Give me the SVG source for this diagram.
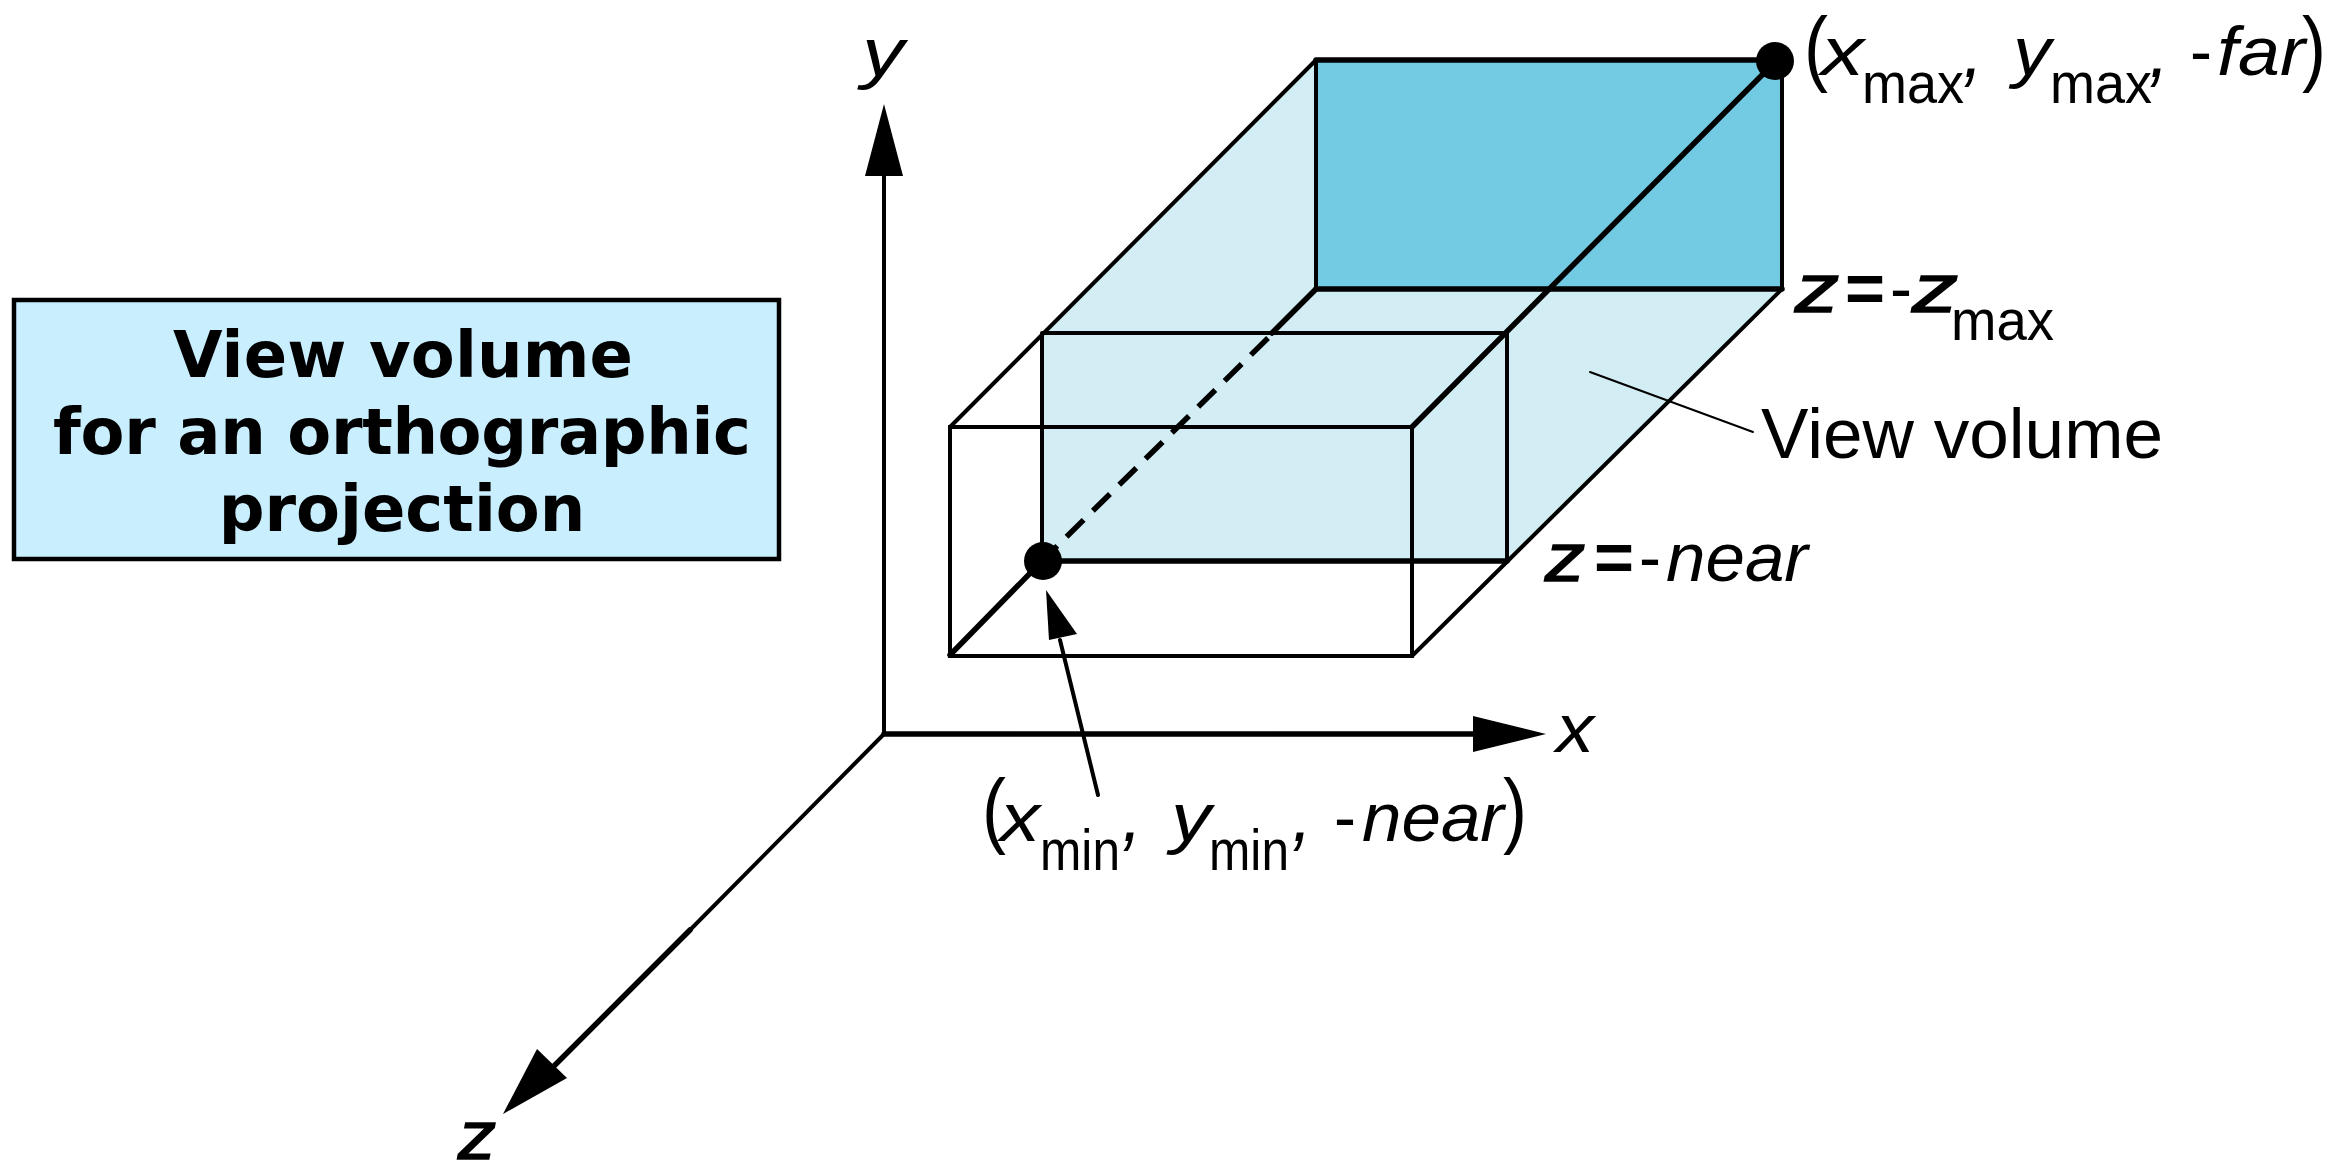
<svg xmlns="http://www.w3.org/2000/svg" width="2334" height="1166" viewBox="0 0 2334 1166">
<style>
.l{fill:none;stroke:#000;stroke-width:4;stroke-linecap:round}
.t{stroke-width:5.5}
.h{stroke-width:2}
text{font-family:"Liberation Sans",Arial,sans-serif;fill:#000;font-size:68px}
.v{font-size:70px}
.s{font-size:58px;font-style:normal}
.c{font-size:80px;font-style:italic}
.p{font-size:84px;font-style:normal}
.i{font-style:italic}
.z{font-style:italic;stroke:#000;stroke-width:1.5}
.e{font-weight:700}
.b{font-family:"DejaVu Sans",sans-serif;font-weight:700;font-size:64px;text-anchor:middle}
</style>
<rect width="2334" height="1166" fill="#fff"/>
<g id="volume">
<polygon points="1316,60 1316,289 1782,289 1507,561 1042,561 1042,333" fill="#d3edf4"/>
<rect x="1316" y="60" width="466" height="229" fill="#72cbe2"/>
<path class="l t" d="M1316,60H1775M1316,289H1782"/>
<path class="l" d="M1316,60V289M1782,60V289M1316,60L950,427M1782,289L1412,656"/>
<path class="l" d="M1042,333H1507V561M1042,333V561"/>
<path class="l t" d="M1042,561H1507"/>
<path class="l" d="M950,427H1412V656H950Z"/>
<path class="l t" d="M1775,62L1412,427M1316,289L1272,333M950,655L1042,561"/>
<path class="l t" style="stroke-linecap:butt" d="M1268,338L1042,561" stroke-dasharray="24 13"/>
<circle cx="1775" cy="61" r="19" fill="#000"/>
<circle cx="1043" cy="561" r="19" fill="#000"/>
</g>
<g id="connectors">
<path class="l" d="M884,165V734"/>
<path class="l t" d="M884,734H1490"/>
<path class="l" d="M884,734L690,930"/>
<path class="l t" d="M690,930L540,1080"/>
<polygon points="884,104 865,176 903,176" fill="#000"/>
<polygon points="1546,734 1473,716 1473,752" fill="#000"/>
<polygon points="503,1114 567,1078 537,1049" fill="#000"/>
<path class="l" d="M1098,795L1060,640"/>
<polygon points="1046,590 1049,640 1077,634" fill="#000"/>
<path class="l h" d="M1590,372L1753,432"/>
</g>
<g id="title">
<rect x="14" y="300" width="765" height="259" fill="#c9efff" stroke="#000" stroke-width="4.5"/>
<text class="b" x="403" y="377" textLength="460">View volume</text>
<text class="b" x="402" y="454" textLength="698">for an orthographic</text>
<text class="b" x="402" y="531">projection</text>
</g>
<g id="labels">
<text class="i" x="862" y="76" textLength="42" lengthAdjust="spacingAndGlyphs">y</text>
<text class="i" x="1556" y="752" textLength="38" lengthAdjust="spacingAndGlyphs">x</text>
<text class="z" x="458" y="1159" textLength="38" lengthAdjust="spacingAndGlyphs">z</text>
<text><tspan class="p" x="1804" y="76" textLength="24" lengthAdjust="spacingAndGlyphs">(</tspan><tspan class="i" x="1821" y="75" textLength="43" lengthAdjust="spacingAndGlyphs">x</tspan><tspan class="s" x="1862" y="103" textLength="102" lengthAdjust="spacingAndGlyphs">max</tspan><tspan class="c" x="1963" y="77" textLength="20" lengthAdjust="spacingAndGlyphs">,</tspan><tspan class="i" x="2013" y="75" textLength="38" lengthAdjust="spacingAndGlyphs">y</tspan><tspan class="s" x="2050" y="103" textLength="102" lengthAdjust="spacingAndGlyphs">max</tspan><tspan class="c" x="2149" y="77" textLength="20" lengthAdjust="spacingAndGlyphs">,</tspan><tspan x="2190" y="75" textLength="22" lengthAdjust="spacingAndGlyphs">-</tspan><tspan class="i" x="2217" y="75" textLength="88" lengthAdjust="spacingAndGlyphs">far</tspan><tspan class="p" x="2302" y="76" textLength="24" lengthAdjust="spacingAndGlyphs">)</tspan></text>
<text><tspan class="z" x="1795" y="312" textLength="44" lengthAdjust="spacingAndGlyphs">z</tspan><tspan class="e" x="1845" y="312" textLength="40" lengthAdjust="spacingAndGlyphs">=</tspan><tspan x="1890" y="312" textLength="22" lengthAdjust="spacingAndGlyphs">-</tspan><tspan class="z" x="1912" y="312" textLength="46" lengthAdjust="spacingAndGlyphs">z</tspan><tspan class="s" x="1951" y="340" textLength="103" lengthAdjust="spacingAndGlyphs">max</tspan></text>
<text class="v" x="1761" y="458" textLength="402" lengthAdjust="spacingAndGlyphs">View volume</text>
<text><tspan class="z" x="1545" y="581" textLength="40" lengthAdjust="spacingAndGlyphs">z</tspan><tspan class="e" x="1594" y="581" textLength="40" lengthAdjust="spacingAndGlyphs">=</tspan><tspan x="1639" y="581" textLength="22" lengthAdjust="spacingAndGlyphs">-</tspan><tspan class="i" x="1666" y="581" textLength="142" lengthAdjust="spacingAndGlyphs">near</tspan></text>
<text><tspan class="p" x="982" y="838" textLength="24" lengthAdjust="spacingAndGlyphs">(</tspan><tspan class="i" x="1000" y="841" textLength="40" lengthAdjust="spacingAndGlyphs">x</tspan><tspan class="s" x="1040" y="870" textLength="80" lengthAdjust="spacingAndGlyphs">min</tspan><tspan class="c" x="1122" y="841" textLength="20" lengthAdjust="spacingAndGlyphs">,</tspan><tspan class="i" x="1171" y="841" textLength="40" lengthAdjust="spacingAndGlyphs">y</tspan><tspan class="s" x="1209" y="870" textLength="80" lengthAdjust="spacingAndGlyphs">min</tspan><tspan class="c" x="1292" y="841" textLength="20" lengthAdjust="spacingAndGlyphs">,</tspan><tspan x="1334" y="841" textLength="22" lengthAdjust="spacingAndGlyphs">-</tspan><tspan class="i" x="1362" y="841" textLength="142" lengthAdjust="spacingAndGlyphs">near</tspan><tspan class="p" x="1503" y="838" textLength="24" lengthAdjust="spacingAndGlyphs">)</tspan></text>
</g>
</svg>
